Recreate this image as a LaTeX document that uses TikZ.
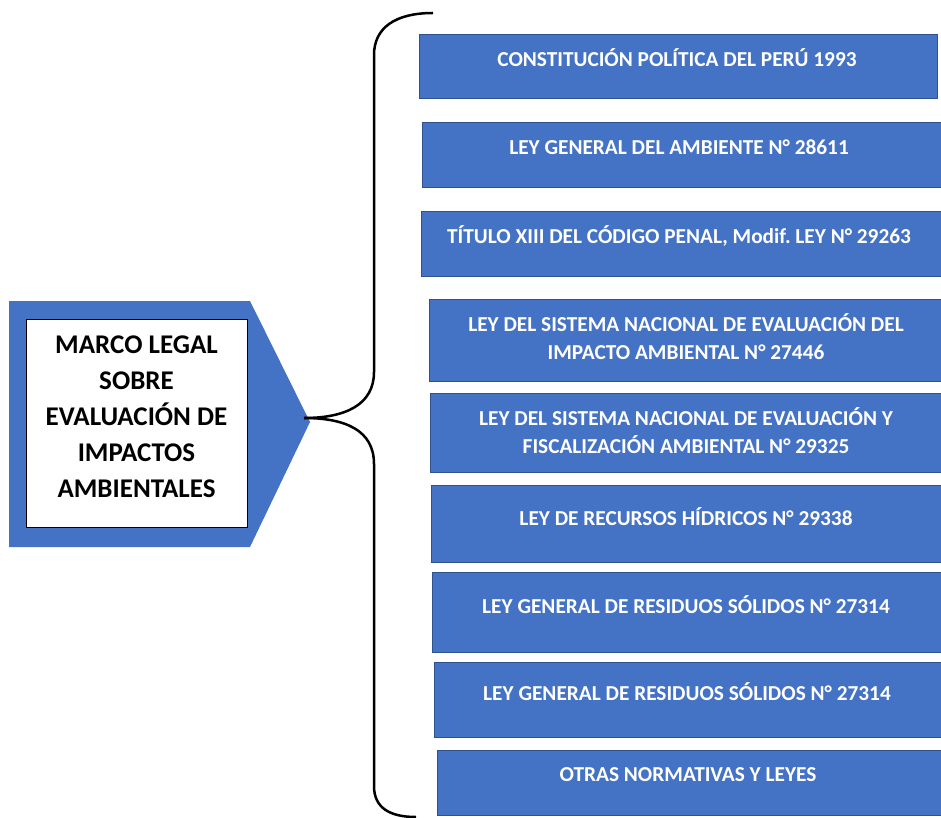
\documentclass[tikz,border=0pt]{standalone}
\usepackage{fontspec}
\setmainfont{Carlito}
\definecolor{boxblue}{HTML}{4472C4}
\definecolor{boxborder}{HTML}{2F528F}

\begin{document}
\begin{tikzpicture}[x=1pt, y=-1pt]
    \tikzset{
        lawbox/.style={
            draw=boxborder, fill=boxblue, line width=0.8pt,
            anchor=north west, inner sep=0pt,
        },
        lawtext/.style={
            text=white, align=center, inner sep=0pt,
            font=\bfseries\fontsize{21.3}{28}\selectfont,
        },
        bracket/.style={draw=black, line width=2.5pt},
    }
    \useasboundingbox (0,0) rectangle (941,818);

    % Left tag
    \fill[boxblue] (9,301) -- (250,301) -- (310,422) -- (250,547) -- (9,547) -- cycle;
    \node[draw=black, fill=white, line width=1pt, anchor=north west, inner sep=0pt,
          minimum width=221pt, minimum height=208pt] (marco) at (26,319) {};
    \node[align=center, inner sep=0pt, font=\bfseries\fontsize{27}{36}\selectfont]
        (marcotext) at (136.5,417) {MARCO LEGAL\\SOBRE\\EVALUACIÓN DE\\IMPACTOS\\AMBIENTALES};
    \coordinate (tip) at (304,418);

    % Laws
    \node[lawbox, minimum width=518pt, minimum height=64pt] (b1) at (419,34) {};
    \node[lawtext] (t1) at (677,58) {CONSTITUCIÓN POLÍTICA DEL PERÚ 1993};
    \node[lawbox, minimum width=519pt, minimum height=65pt] (b2) at (422,122) {};
    \node[lawtext] (t2) at (679,147) {LEY GENERAL DEL AMBIENTE N° 28611};
    \node[lawbox, minimum width=520pt, minimum height=65pt] (b3) at (421,211) {};
    \node[lawtext] (t3) at (679,236) {TÍTULO XIII DEL CÓDIGO PENAL, Modif.\ LEY N° 29263};
    \node[lawbox, minimum width=512pt, minimum height=82pt] (b4) at (429,299) {};
    \node[lawtext] (t4) at (686,337) {LEY DEL SISTEMA NACIONAL DE EVALUACIÓN DEL\\IMPACTO AMBIENTAL N° 27446};
    \node[lawbox, minimum width=511pt, minimum height=79pt] (b5) at (430,393) {};
    \node[lawtext] (t5) at (686,431) {LEY DEL SISTEMA NACIONAL DE EVALUACIÓN Y\\FISCALIZACIÓN AMBIENTAL N° 29325};
    \node[lawbox, minimum width=510pt, minimum height=77pt] (b6) at (431,485) {};
    \node[lawtext] (t6) at (686,517) {LEY DE RECURSOS HÍDRICOS N° 29338};
    \node[lawbox, minimum width=509pt, minimum height=80pt] (b7) at (432,572) {};
    \node[lawtext] (t7) at (686,605) {LEY GENERAL DE RESIDUOS SÓLIDOS N° 27314};
    \node[lawbox, minimum width=507pt, minimum height=75pt] (b8) at (434,662) {};
    \node[lawtext] (t8) at (687,692) {LEY GENERAL DE RESIDUOS SÓLIDOS N° 27314};
    \node[lawbox, minimum width=504pt, minimum height=65pt] (b9) at (437,750) {};
    \node[lawtext] (t9) at (688,775) {OTRAS NORMATIVAS Y LEYES};

    % Bracket
    \coordinate (top) at (433,13);
    \coordinate (bottom) at (416,817);
    \draw[bracket] (top) .. controls (395,13) and (374,28) .. (374,55)
        -- (374,372) .. controls (374,405) and (345,418) .. (tip);
    \draw[bracket] (tip) .. controls (345,418) and (374,430) .. (374,464)
        -- (374,786) .. controls (374,808) and (390,817) .. (bottom);
\end{tikzpicture}
\end{document}
